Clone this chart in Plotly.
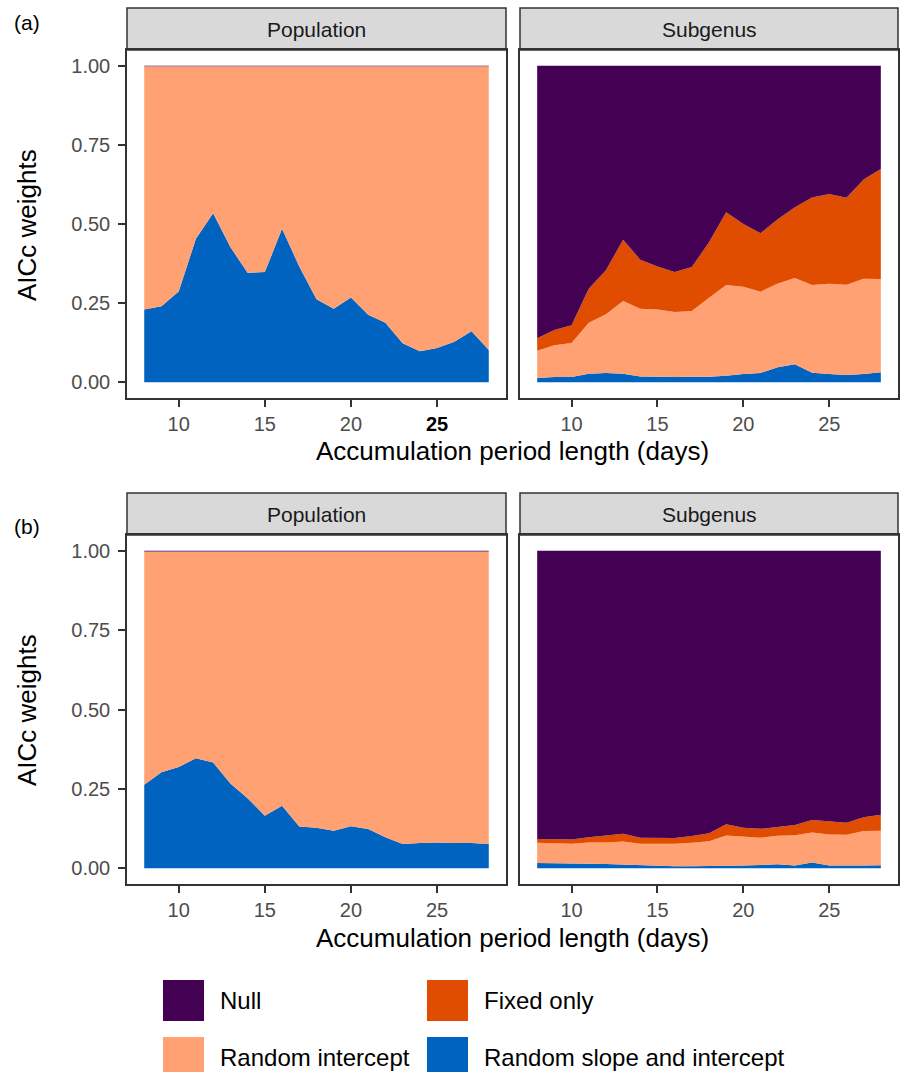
import plotly.graph_objects as go

# ---------------- data (AICc weights per model) ----------------
days = [8, 9, 10, 11, 12, 13, 14, 15, 16, 17, 18, 19, 20, 21, 22, 23, 24, 25, 26, 27, 28]

models = ["Random slope and intercept", "Random intercept", "Fixed only", "Null"]
model_colors = {"Null": "#440154", "Fixed only": "#E04C00",
                "Random intercept": "#FFA172", "Random slope and intercept": "#0063C0"}

# (a) Population
a_pop_rs = [0.230, 0.240, 0.287, 0.453, 0.534, 0.427, 0.346, 0.348, 0.485, 0.366, 0.262,
            0.232, 0.268, 0.213, 0.188, 0.123, 0.098, 0.108, 0.128, 0.161, 0.102]
a_pop_ri = [0.769, 0.759, 0.712, 0.546, 0.465, 0.572, 0.653, 0.651, 0.514, 0.633, 0.737,
            0.767, 0.731, 0.786, 0.811, 0.876, 0.901, 0.891, 0.871, 0.838, 0.897]
a_pop_fixed = [0.000, 0.000, 0.000, 0.000, 0.000, 0.000, 0.000, 0.000, 0.000, 0.000, 0.000,
               0.000, 0.000, 0.000, 0.000, 0.000, 0.000, 0.000, 0.000, 0.000, 0.000]
a_pop_null = [0.001, 0.001, 0.001, 0.001, 0.001, 0.001, 0.001, 0.001, 0.001, 0.001, 0.001,
              0.001, 0.001, 0.001, 0.001, 0.001, 0.001, 0.001, 0.001, 0.001, 0.001]

# (a) Subgenus
a_sub_rs = [0.013, 0.016, 0.016, 0.027, 0.029, 0.027, 0.018, 0.016, 0.016, 0.017, 0.017,
            0.020, 0.026, 0.029, 0.047, 0.057, 0.030, 0.026, 0.023, 0.026, 0.031]
a_sub_ri = [0.086, 0.101, 0.108, 0.161, 0.186, 0.230, 0.214, 0.214, 0.206, 0.208, 0.250,
            0.287, 0.276, 0.257, 0.265, 0.272, 0.277, 0.285, 0.285, 0.301, 0.295]
a_sub_fixed = [0.040, 0.048, 0.056, 0.107, 0.139, 0.193, 0.155, 0.136, 0.126, 0.139, 0.175,
               0.230, 0.198, 0.185, 0.203, 0.224, 0.277, 0.284, 0.275, 0.314, 0.348]
a_sub_null = [0.861, 0.835, 0.820, 0.705, 0.646, 0.550, 0.613, 0.634, 0.652, 0.636, 0.558,
              0.463, 0.500, 0.529, 0.485, 0.447, 0.416, 0.405, 0.417, 0.359, 0.326]

# (b) Population
b_pop_rs = [0.263, 0.302, 0.319, 0.346, 0.333, 0.267, 0.220, 0.165, 0.197, 0.131, 0.127,
            0.118, 0.132, 0.123, 0.097, 0.076, 0.079, 0.081, 0.079, 0.079, 0.076]
b_pop_ri = [0.735, 0.696, 0.679, 0.652, 0.665, 0.731, 0.778, 0.833, 0.801, 0.867, 0.871,
            0.880, 0.866, 0.875, 0.901, 0.922, 0.919, 0.917, 0.919, 0.919, 0.922]
b_pop_fixed = [0.000, 0.000, 0.000, 0.000, 0.000, 0.000, 0.000, 0.000, 0.000, 0.000, 0.000,
               0.000, 0.000, 0.000, 0.000, 0.000, 0.000, 0.000, 0.000, 0.000, 0.000]
b_pop_null = [0.002, 0.002, 0.002, 0.002, 0.002, 0.002, 0.002, 0.002, 0.002, 0.002, 0.002,
              0.002, 0.002, 0.002, 0.002, 0.002, 0.002, 0.002, 0.002, 0.002, 0.002]

# (b) Subgenus
b_sub_rs = [0.016, 0.016, 0.015, 0.014, 0.013, 0.011, 0.008, 0.006, 0.006, 0.006, 0.006,
            0.007, 0.008, 0.010, 0.012, 0.008, 0.018, 0.008, 0.007, 0.008, 0.009]
b_sub_ri = [0.064, 0.063, 0.062, 0.067, 0.068, 0.073, 0.069, 0.071, 0.071, 0.074, 0.079,
            0.096, 0.091, 0.086, 0.090, 0.096, 0.094, 0.098, 0.098, 0.109, 0.109]
b_sub_fixed = [0.012, 0.012, 0.013, 0.016, 0.021, 0.024, 0.019, 0.018, 0.018, 0.021, 0.025,
               0.035, 0.028, 0.028, 0.028, 0.032, 0.040, 0.041, 0.038, 0.043, 0.050]
b_sub_null = [0.908, 0.909, 0.910, 0.903, 0.898, 0.892, 0.904, 0.905, 0.905, 0.899, 0.890,
              0.862, 0.873, 0.876, 0.870, 0.864, 0.848, 0.853, 0.857, 0.840, 0.832]

x_ticks = [10, 15, 20, 25]
y_ticks = [0, 0.25, 0.5, 0.75, 1.0]
y_tick_labels = ["0.00", "0.25", "0.50", "0.75", "1.00"]
strip_labels = ["Population", "Subgenus"]
panel_tags = ["(a)", "(b)"]
x_title = "Accumulation period length (days)"
y_title = "AICc weights"

# ---------------- figure ----------------
W, H = 901, 1072
FONT = "Liberation Sans, Arial, Helvetica, sans-serif"
fig = go.Figure()

panels = [
    ("x", "y", [a_pop_rs, a_pop_ri, a_pop_fixed, a_pop_null]),
    ("x2", "y2", [a_sub_rs, a_sub_ri, a_sub_fixed, a_sub_null]),
    ("x3", "y3", [b_pop_rs, b_pop_ri, b_pop_fixed, b_pop_null]),
    ("x4", "y4", [b_sub_rs, b_sub_ri, b_sub_fixed, b_sub_null]),
]
for i, (xa, ya, series) in enumerate(panels):
    for name, vals in zip(models, series):
        c = model_colors[name]
        fig.add_trace(go.Scatter(
            x=days, y=vals, name=name, mode="lines", stackgroup=f"s{i}",
            line=dict(width=0, color=c), fillcolor=c,
            xaxis=xa, yaxis=ya, showlegend=False))


def px_x(p):
    return p / W


def px_y(p):
    return 1 - p / H


col_dom = [[px_x(127), px_x(506)], [px_x(520), px_x(898)]]
row_dom = [[px_y(398), px_y(50)], [px_y(884), px_y(535)]]
strip_px = [(8, 50), (493, 535)]

axis_common = dict(showgrid=False, zeroline=False, showline=True, linecolor="#333333",
                   linewidth=1.5, mirror=True, ticks="outside", ticklen=7, tickwidth=1.5,
                   tickcolor="#333333", tickfont=dict(family=FONT, size=20, color="#4D4D4D"))

layout_axes = {}
idx = 0
for r in range(2):
    for c in range(2):
        idx += 1
        sfx = "" if idx == 1 else str(idx)
        ticktext = [str(t) for t in x_ticks]
        if idx == 1:
            ticktext[-1] = '<b><span style="color:#000000">25</span></b>'
        layout_axes["xaxis" + sfx] = dict(axis_common, domain=col_dom[c], anchor="y" + sfx,
                                          range=[7, 29], tickvals=x_ticks, ticktext=ticktext)
        ya = dict(axis_common, domain=row_dom[r], anchor="x" + sfx, range=[-0.05, 1.05],
                  tickvals=y_ticks, ticktext=y_tick_labels, ticklabelstandoff=4)
        if c == 1:
            ya.update(showticklabels=False, ticks="")
        layout_axes["yaxis" + sfx] = ya

fig.update_layout(**layout_axes)

shapes = []
annotations = []
for r in range(2):
    s0, s1 = strip_px[r]
    for c in range(2):
        shapes.append(dict(type="rect", xref="paper", yref="paper",
                           x0=col_dom[c][0], x1=col_dom[c][1], y0=px_y(s1), y1=px_y(s0),
                           fillcolor="#D9D9D9", line=dict(color="#333333", width=1.5),
                           layer="below"))
        annotations.append(dict(text=strip_labels[c], xref="paper", yref="paper",
                                x=(col_dom[c][0] + col_dom[c][1]) / 2, y=px_y((s0 + s1) / 2),
                                showarrow=False, xanchor="center", yanchor="middle",
                                font=dict(family=FONT, size=21, color="#1A1A1A")))
    # panel tag
    annotations.append(dict(text=panel_tags[r], xref="paper", yref="paper",
                            x=px_x(12), y=px_y([22, 526][r]), showarrow=False,
                            xanchor="left", yanchor="middle",
                            font=dict(family=FONT, size=21, color="#000000")))
    # x title
    annotations.append(dict(text=x_title, xref="paper", yref="paper",
                            x=px_x(512), y=px_y([451, 938][r]), showarrow=False,
                            xanchor="center", yanchor="middle",
                            font=dict(family=FONT, size=26, color="#000000")))
    # y title
    annotations.append(dict(text=y_title, xref="paper", yref="paper",
                            x=px_x(27), y=px_y([225, 710][r]), showarrow=False,
                            textangle=-90, xanchor="center", yanchor="middle",
                            font=dict(family=FONT, size=26, color="#000000")))

# legend (manual 2x2 keys)
legend_layout = [("Null", 163, 980), ("Fixed only", 427, 980),
                 ("Random intercept", 163, 1037), ("Random slope and intercept", 427, 1037)]
for name, lx, ly in legend_layout:
    shapes.append(dict(type="rect", xref="paper", yref="paper",
                       x0=px_x(lx), x1=px_x(lx + 41), y0=px_y(ly + 41), y1=px_y(ly),
                       fillcolor=model_colors[name], line=dict(width=0)))
    annotations.append(dict(text=name, xref="paper", yref="paper",
                            x=px_x(lx + 55), y=px_y(ly + 20.5), showarrow=False,
                            xanchor="left", yanchor="middle",
                            font=dict(family=FONT, size=24, color="#000000")))

fig.update_layout(width=W, height=H, margin=dict(l=0, r=0, t=0, b=0),
                  paper_bgcolor="white", plot_bgcolor="white", showlegend=False,
                  shapes=shapes, annotations=annotations)

fig.write_html("out.html")
